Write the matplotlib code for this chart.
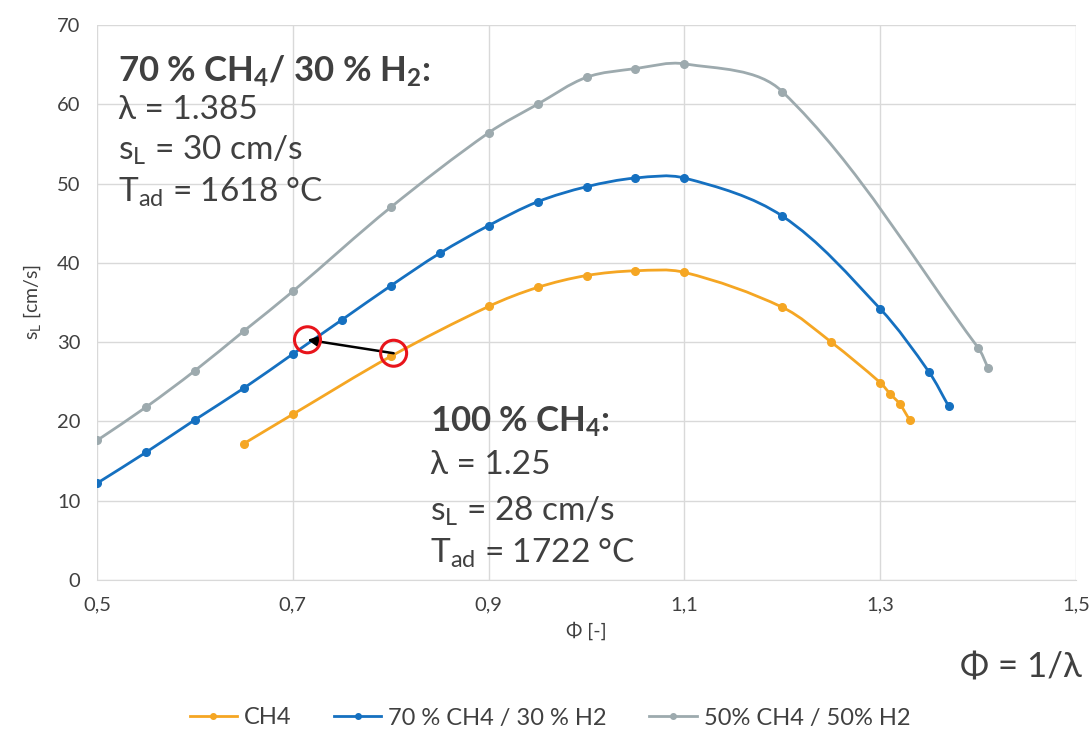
import numpy as np
import matplotlib
matplotlib.use("Agg")
import matplotlib.pyplot as plt
from matplotlib.path import Path
from matplotlib.patches import PathPatch, Ellipse
from matplotlib.lines import Line2D

plt.rcParams['font.family'] = ['Lato', 'DejaVu Sans']
plt.rcParams['mathtext.fontset'] = 'custom'
plt.rcParams['mathtext.rm'] = 'Lato'
plt.rcParams['mathtext.it'] = 'Lato:italic'
plt.rcParams['mathtext.bf'] = 'Lato:bold'

# ---- data ----
phi_ch4 = [0.65, 0.70, 0.80, 0.90, 0.95, 1.00, 1.05, 1.10, 1.20, 1.25, 1.30, 1.31, 1.32, 1.33]
sl_ch4 = [17.2, 20.9, 28.2, 34.5, 36.9, 38.4, 39.0, 38.8, 34.4, 30.0, 24.9, 23.5, 22.2, 20.2]

phi_h30 = [0.50, 0.55, 0.60, 0.65, 0.70, 0.75, 0.80, 0.85, 0.90, 0.95, 1.00, 1.05, 1.10, 1.20, 1.30, 1.35, 1.37]
sl_h30 = [12.2, 16.1, 20.2, 24.2, 28.5, 32.8, 37.1, 41.2, 44.7, 47.7, 49.6, 50.7, 50.7, 45.9, 34.2, 26.2, 21.9]

phi_h50 = [0.50, 0.55, 0.60, 0.65, 0.70, 0.80, 0.90, 0.95, 1.00, 1.05, 1.10, 1.20, 1.40, 1.41]
sl_h50 = [17.6, 21.8, 26.4, 31.4, 36.4, 47.0, 56.4, 60.0, 63.4, 64.5, 65.1, 61.6, 29.3, 26.8]

labels = ["CH4", "70 % CH4 / 30 % H2", "50% CH4 / 50% H2"]
colors = ["#F5A623", "#1570C0", "#9DAAAE"]

xticks = [0.5, 0.7, 0.9, 1.1, 1.3, 1.5]
xticklabels = ["0,5", "0,7", "0,9", "1,1", "1,3", "1,5"]
yticks = [0, 10, 20, 30, 40, 50, 60, 70]

# circles / arrow points
p_from = (0.803, 28.6)
p_to = (0.715, 30.3)

fig = plt.figure(figsize=(10.91, 7.34), dpi=100)
ax = fig.add_axes([97/1091, 1-580/734, (1076-97)/1091, (580-25)/734])
ax.set_xlim(0.5, 1.5)
ax.set_ylim(0, 70)

SX, SY = 979.0, 7.93  # pixel scale per data unit, for smoothing geometry

def smooth_path(x, y):
    P = np.column_stack([np.asarray(x) * SX, np.asarray(y) * SY])
    n = len(P)
    tang = []
    for i in range(n):
        a = P[i-1] if i > 0 else P[i]
        b = P[i+1] if i < n-1 else P[i]
        d = b - a
        tang.append(d / np.linalg.norm(d))
    verts = [P[0]]
    codes = [Path.MOVETO]
    for i in range(n-1):
        L = np.linalg.norm(P[i+1] - P[i]) / 3.0
        c1 = P[i] + tang[i] * L
        c2 = P[i+1] - tang[i+1] * L
        verts += [c1, c2, P[i+1]]
        codes += [Path.CURVE4]*3
    V = np.array(verts)
    V[:, 0] /= SX
    V[:, 1] /= SY
    return Path(V, codes)

for xs, ys, c in zip([phi_ch4, phi_h30, phi_h50], [sl_ch4, sl_h30, sl_h50], colors):
    ax.add_patch(PathPatch(smooth_path(xs, ys), facecolor='none', edgecolor=c, lw=2.0, zorder=3))
    ax.plot(xs, ys, ls='none', marker='o', ms=5.5, color=c, zorder=4)

ax.set_xticks(xticks)
ax.set_xticklabels(xticklabels)
ax.set_yticks(yticks)
ax.grid(True, color='#D9D9D9', lw=1.0)
ax.set_axisbelow(True)
for s in ['top', 'right', 'left']:
    ax.spines[s].set_visible(False)
ax.spines['bottom'].set_color('#D9D9D9')
ax.tick_params(length=0, labelsize=14.5, colors='#404040', pad=12)

ax.set_ylabel(r'$\mathregular{s_L}$ [cm/s]', fontsize=14, color='#404040', labelpad=10)
ax.set_xlabel('Φ [-]', fontsize=14, color='#404040', labelpad=6)

# arrow and circles
ax.annotate('', xy=p_to, xytext=p_from,
            arrowprops=dict(arrowstyle='-|>', color='black', lw=1.8, mutation_scale=14,
                            shrinkA=0, shrinkB=0), zorder=6)
for p in [p_from, p_to]:
    ax.add_patch(Ellipse(p, width=26/979, height=26/7.93, facecolor='none',
                         edgecolor='#E8141B', lw=2.2, zorder=7))

tc = '#404040'
fs = 24
fsb = 25
ax.text(0.521, 64.1, r'70 % CH$_\mathbf{4}$/ 30 % H$_\mathbf{2}$:', fontsize=fsb, fontweight='bold',
        color=tc, va='center', ha='left')
ax.text(0.521, 59.3, 'λ = 1.385', fontsize=fs, color=tc, va='center', ha='left')
ax.text(0.521, 54.2, r's$_\mathregular{L}$ = 30 cm/s', fontsize=fs, color=tc, va='center', ha='left')
ax.text(0.521, 48.9, r'T$_\mathregular{ad}$ = 1618 °C', fontsize=fs, color=tc, va='center', ha='left')

ax.text(0.840, 19.9, r'100 % CH$_\mathbf{4}$:', fontsize=fsb, fontweight='bold',
        color=tc, va='center', ha='left')
ax.text(0.840, 14.5, 'λ = 1.25', fontsize=fs, color=tc, va='center', ha='left')
ax.text(0.840, 8.6, r's$_\mathregular{L}$ = 28 cm/s', fontsize=fs, color=tc, va='center', ha='left')
ax.text(0.840, 3.4, r'T$_\mathregular{ad}$ = 1722 °C', fontsize=fs, color=tc, va='center', ha='left')

fig.text(1082/1091, 1-668/734, 'Φ = 1/λ', fontsize=25, color=tc, ha='right', va='center')

handles = [Line2D([0], [0], color=c, lw=2, marker='o', ms=4) for c in colors]
fig.legend(handles, labels, loc='center', bbox_to_anchor=(550/1091, 1-718/734), ncol=3,
           frameon=False, fontsize=17, handlelength=2.0, handletextpad=0.3, columnspacing=1.8,
           labelcolor=tc)

fig.savefig('out.png', dpi=100)
